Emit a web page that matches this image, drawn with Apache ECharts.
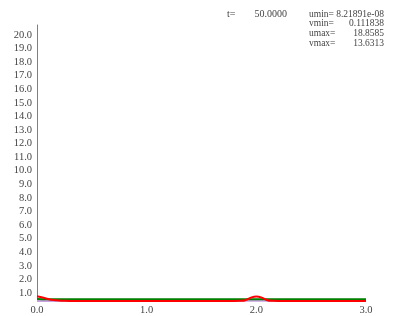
<!DOCTYPE html>
<html>
<head>
<meta charset="utf-8">
<script src="https://cdn.jsdelivr.net/npm/echarts@6/dist/echarts.min.js"></script>
<style>
  html, body { margin: 0; padding: 0; background: #fff; }
  #chart { width: 397px; height: 316px; }
</style>
</head>
<body>
<div id="chart"></div>
<script>
// x positions of the profile samples
var xs = [0.00, 0.05, 0.10, 0.15, 0.20, 0.25, 0.30, 0.50, 1.00, 1.50, 1.80, 1.85,
          1.90, 1.95, 2.00, 2.05, 2.10, 2.15, 2.20, 2.50, 3.00];
// u profile (red)
var uVals = [0.35, 0.26, 0.15, 0.07, 0.03, 0.01, 0.00, 0.00, 0.00, 0.00, 0.00, 0.01,
             0.06, 0.25, 0.34, 0.25, 0.06, 0.01, 0.00, 0.00, 0.00];
// v profile (green)
var vVals = [0.14, 0.13, 0.13, 0.13, 0.13, 0.13, 0.13, 0.13, 0.13, 0.13, 0.13, 0.13,
             0.13, 0.13, 0.13, 0.13, 0.13, 0.13, 0.13, 0.13, 0.13];
// base line (purple)
var wVals = [0.00, 0.00, 0.00, 0.00, 0.00, 0.00, 0.00, 0.00, 0.00, 0.00, 0.00, 0.00,
             0.01, 0.02, 0.02, 0.02, 0.01, 0.00, 0.00, 0.00, 0.00];

var statLabels = ['umin=', 'vmin=', 'umax=', 'vmax='];
var statValues = ['8.21891e-08', '0.111838', '18.8585', '13.6313'];
var timeLabel = 't=';
var timeValue = '50.0000';

var font = '"Liberation Serif", "DejaVu Serif", serif';
var textColor = '#444';

var pairs = function (ys) {
    return xs.map(function (x, i) { return [x, ys[i]]; });
};

var graphics = [
    { type: 'text', left: 227, top: 9, style: { text: timeLabel, font: '10px ' + font, fill: textColor } },
    { type: 'text', right: 110, top: 9, style: { text: timeValue, font: '10px ' + font, fill: textColor } }
];
statLabels.forEach(function (lab, i) {
    graphics.push({ type: 'text', left: 309, top: 9 + i * 9.7,
        style: { text: lab, font: '9.5px ' + font, fill: textColor } });
    graphics.push({ type: 'text', right: 13, top: 9 + i * 9.7,
        style: { text: statValues[i], font: '9.5px ' + font, fill: textColor } });
});

var chart = echarts.init(document.getElementById('chart'));
chart.setOption({
    animation: false,
    backgroundColor: '#fff',
    grid: { left: 37, right: 31, top: 25, bottom: 14, containLabel: false },
    xAxis: {
        type: 'value', min: 0, max: 3, interval: 1,
        axisLine: { show: false },
        axisTick: { show: false },
        splitLine: { show: false },
        axisLabel: {
            margin: 4, color: textColor, fontSize: 10.5, fontFamily: font,
            formatter: function (v) { return v.toFixed(1); }
        }
    },
    yAxis: {
        type: 'value', min: 0, max: 20.32, interval: 1,
        axisLine: { show: true, lineStyle: { color: '#808080', width: 1 } },
        axisTick: { show: false },
        splitLine: { show: false },
        axisLabel: {
            margin: 5, color: textColor, fontSize: 10.5, fontFamily: font,
            verticalAlign: 'top', showMinLabel: false, showMaxLabel: false,
            formatter: function (v) {
                return (v === 0 || Math.abs(v - Math.round(v)) > 1e-6) ? '' : v.toFixed(1);
            }
        }
    },
    series: [
        { name: 'w', type: 'line', data: pairs(wVals), showSymbol: false, clip: false,
          lineStyle: { color: '#c8a0e0', width: 2 } },
        { name: 'v', type: 'line', data: pairs(vVals), showSymbol: false, clip: false,
          lineStyle: { color: '#008000', width: 2 } },
        { name: 'u', type: 'line', data: pairs(uVals), showSymbol: false, clip: false, smooth: 0.3,
          lineStyle: { color: '#ff0000', width: 2 } }
    ],
    graphic: graphics
});
</script>
</body>
</html>
